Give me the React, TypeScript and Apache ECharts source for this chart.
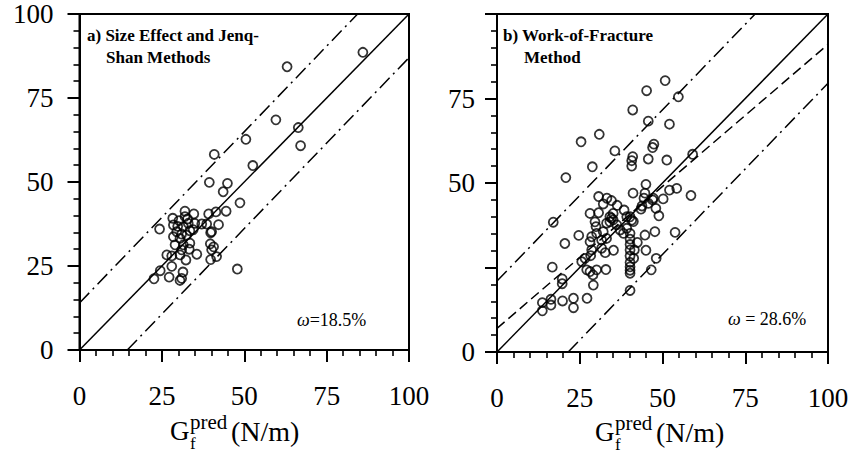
import React, { useEffect, useRef } from "react";
import * as echarts from "echarts";

// Panel a) Size Effect and Jenq-Shan Methods: [predicted, measured]
const sizeEffectPoints: [number, number][] = [
  [86, 88.6], [63, 84.3], [59.6, 68.5], [66.4, 66.2], [67.1, 60.8], [50.5, 62.7],
  [52.6, 54.9], [40.9, 58.2], [39.4, 49.9], [44.9, 49.6], [43.6, 47.1], [48.7, 43.8],
  [44.5, 41.3], [41.4, 41.1], [39.2, 40.5], [34.7, 40.5], [32, 41.3], [28.3, 39.2],
  [32, 39.7], [24.3, 36], [28.5, 37.2], [29.5, 35.2], [31.5, 36.7], [33, 37.7],
  [35, 37.7], [37.1, 37.5], [38.6, 37.5], [42.2, 37.3], [40.1, 35.2], [39.8, 34.9],
  [28.5, 33.7], [30.5, 33.2], [32.5, 34.2], [29, 31.3], [31.5, 31.3], [33.5, 31.8],
  [39.7, 31.6], [40.7, 30.7], [40.1, 29.8], [41.6, 27.8], [39.8, 26.9], [31, 29.8],
  [33.3, 30], [26.5, 28.3], [28, 28], [30.5, 28.3], [32.3, 26.8], [35.6, 28.5],
  [28, 24.9], [24.5, 23.6], [22.6, 21.2], [27.2, 21.7], [31.4, 23.2], [30.5, 20.7],
  [31, 21.3], [47.9, 24.1], [30.2, 38.5], [33.5, 35.5], [31, 34.5], [29.8, 36.8],
  [32.8, 39], [34.5, 35.8],
];

// Panel b) Work-of-Fracture Method: [predicted, measured]
const workOfFracturePoints: [number, number][] = [
  [50.8, 80.3], [45.2, 77.3], [54.8, 75.5], [41, 71.6], [45.7, 68.3], [52.1, 67.4],
  [30.9, 64.4], [25.4, 62.2], [47.4, 61.5], [47, 60.5], [35.6, 59.5], [41, 57.8],
  [40.7, 56.6], [40.7, 55], [45.7, 57.1], [51.3, 56.8], [59.1, 58.5], [28.8, 54.8],
  [20.8, 51.6], [45, 49.6], [41.1, 47], [44.7, 47], [44.4, 45.5], [47.2, 45.5],
  [50.2, 45.3], [52.1, 47.9], [54.3, 48.4], [58.6, 46.3], [47, 45], [30.7, 46],
  [33.2, 45.5], [34.6, 44.8], [32.1, 43.8], [36.3, 43.4], [38.4, 42], [43.5, 42.3],
  [43.8, 43.2], [48, 42.5], [48.9, 40.3], [45.7, 44], [28.1, 41], [30.7, 41.2],
  [35.1, 41], [34.6, 39.6], [34.1, 38.5], [39.2, 40], [40.7, 39], [17, 38.4],
  [29.6, 38.5], [34.1, 40], [35.1, 39.1], [33.1, 38.1], [36.2, 37.6], [37.2, 36.1],
  [38.2, 35.1], [32.1, 35.6], [39.2, 36.6], [41.2, 38.6], [40.2, 40], [29.9, 37.1],
  [30.1, 35.1], [28.1, 32.6], [28.6, 34.1], [24.7, 34.5], [20.5, 32.1], [31.6, 33.1],
  [33.1, 33.6], [35.2, 30.1], [32.7, 29.4], [31.6, 30.7], [28.6, 30.2], [26.6, 27.7],
  [28.3, 28.5], [25.6, 26.7], [27.1, 24.3], [28.1, 23.8], [29, 22.8], [30.1, 24.3],
  [32.9, 24.4], [29.1, 19.8], [19.7, 21.6], [19.7, 20.2], [16.7, 25.1], [13.7, 14.6],
  [13.7, 12.2], [16.3, 15.6], [16.3, 13.9], [19.8, 15.1], [23.1, 15.9], [23.1, 13.1],
  [27.2, 15.9], [40.2, 35.1], [40.2, 33.4], [40.2, 31.8], [40.2, 30.2], [40.2, 28.4],
  [40.2, 26.5], [40.2, 25.2], [40.2, 24.2], [40.2, 23.3], [41.3, 27.7], [42.4, 32.4],
  [44.7, 34.6], [47.7, 35.6], [53.8, 35.4], [45, 30.1], [48.1, 27.7], [46.6, 24.3],
  [40.2, 18.2], [41.5, 30.2],
];

// Reference lines (panel a)
const aEquality: [number, number][] = [[0, 0], [100, 100]];
const aUpperBound: [number, number][] = [[0, 14], [84.4, 100]];
const aLowerBound: [number, number][] = [[14.5, 0], [100, 87]];

// Reference lines (panel b)
const bEquality: [number, number][] = [[0, 0], [100, 100]];
const bFit: [number, number][] = [[0, 7], [100, 91]];
const bUpperBound: [number, number][] = [[0, 21], [78, 100]];
const bLowerBound: [number, number][] = [[21.5, 0], [100, 79.5]];

const bHiddenYLabels = [25, 100];

const titleA = ["a) Size Effect and Jenq-", "Shan Methods"];
const titleB = ["b) Work-of-Fracture", "Method"];
const omegaA = "{i|ω}=18.5%";
const omegaB = "{i|ω} = 28.6%";

const SERIF = "Liberation Serif";
const DASH_DOT = [14, 5, 2, 5];
const DASH = [10, 5];

function axisCommon(margin: number, hidden: number[] = []) {
  return {
    type: "value" as const,
    min: 0,
    max: 100,
    interval: 25,
    axisLine: { show: true, lineStyle: { color: "#000", width: 2 } },
    axisTick: { show: true, length: 12, lineStyle: { color: "#000", width: 2 } },
    minorTick: { show: true, splitNumber: 5, length: 6, lineStyle: { color: "#000", width: 1.6 } },
    splitLine: { show: false },
    axisLabel: {
      show: true,
      color: "#000",
      fontFamily: SERIF,
      fontSize: 27,
      margin,
      formatter: (v: number) => (hidden.includes(v) ? "" : String(v)),
    },
  };
}

function refLine(data: [number, number][], type: any) {
  return {
    type: "line",
    data,
    symbol: "none",
    lineStyle: { color: "#000", width: 1.5, type },
  };
}

function scatter(data: [number, number][]) {
  return {
    type: "scatter",
    data,
    symbol: "circle",
    symbolSize: 9,
    itemStyle: { color: "rgba(0,0,0,0)", borderColor: "#000", borderWidth: 1.8 },
  };
}

function axisName(x: number, y: number) {
  return [
    { type: "text", x, y, style: { text: "G", fontFamily: SERIF, fontSize: 27, fill: "#000", verticalAlign: "middle" } },
    { type: "text", x: x + 20, y: y + 12, style: { text: "f", fontFamily: SERIF, fontSize: 17, fill: "#000", verticalAlign: "middle" } },
    { type: "text", x: x + 20, y: y - 9, style: { text: "pred", fontFamily: SERIF, fontSize: 21, fill: "#000", verticalAlign: "middle" } },
    { type: "text", x: x + 61, y, style: { text: "(N/m)", fontFamily: SERIF, fontSize: 28, fill: "#000", verticalAlign: "middle" } },
  ];
}

function title(lines: string[], x: number, x2: number) {
  return [
    { type: "text", x, y: 35, style: { text: lines[0], fontFamily: SERIF, fontWeight: "bold", fontSize: 17, fill: "#000", verticalAlign: "middle" } },
    { type: "text", x: x2, y: 57, style: { text: lines[1], fontFamily: SERIF, fontWeight: "bold", fontSize: 17, fill: "#000", verticalAlign: "middle" } },
  ];
}

function omega(text: string, x: number, y: number) {
  return {
    type: "text",
    x,
    y,
    style: {
      text,
      fontFamily: SERIF,
      fontSize: 18,
      fill: "#000",
      verticalAlign: "middle",
      rich: { i: { fontStyle: "italic", fontFamily: SERIF, fontSize: 18, fill: "#000" } },
    },
  };
}

// Panel A occupies page x 0..440, panel B x 440..857
const OFF = 440;

const optionA: any = {
  animation: false,
  grid: { left: 79.5, top: 14, width: 329.5, height: 336, show: true, borderColor: "#000", borderWidth: 2 },
  xAxis: axisCommon(32),
  yAxis: axisCommon(26),
  series: [
    refLine(aEquality, "solid"),
    refLine(aUpperBound, DASH_DOT),
    refLine(aLowerBound, DASH_DOT),
    scatter(sizeEffectPoints),
  ],
  graphic: [
    ...title(titleA, 87, 106),
    omega(omegaA, 297, 320),
    ...axisName(170, 431),
  ],
};

const optionB: any = {
  animation: false,
  grid: { left: 497 - OFF, top: 14, width: 331, height: 338, show: true, borderColor: "#000", borderWidth: 2 },
  xAxis: axisCommon(32),
  yAxis: axisCommon(22, bHiddenYLabels),
  series: [
    refLine(bEquality, "solid"),
    refLine(bFit, DASH),
    refLine(bUpperBound, DASH_DOT),
    refLine(bLowerBound, DASH_DOT),
    scatter(workOfFracturePoints),
  ],
  graphic: [
    ...title(titleB, 503 - OFF, 524 - OFF),
    omega(omegaB, 728 - OFF, 319),
    ...axisName(595 - OFF, 432),
  ],
};

function Chart({ option, width }: { option: any; width: number }) {
  const ref = useRef<HTMLDivElement>(null);
  useEffect(() => {
    if (!ref.current) return;
    const chart = echarts.init(ref.current, null, { renderer: "svg" });
    chart.setOption(option);
    return () => chart.dispose();
  }, []);
  return <div ref={ref} style={{ width, height: 457, display: "inline-block", verticalAlign: "top" }} />;
}

export default function App() {
  return (
    <div style={{ position: "fixed", left: 0, top: 0, width: 857, height: 457, fontSize: 0, whiteSpace: "nowrap", background: "#fff" }}>
      <Chart option={optionA} width={OFF} />
      <Chart option={optionB} width={857 - OFF} />
    </div>
  );
}
